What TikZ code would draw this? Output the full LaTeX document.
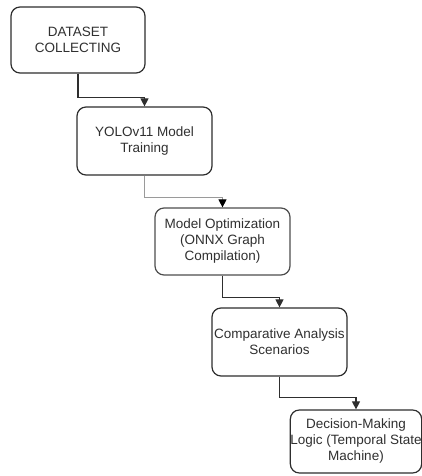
\documentclass[tikz,border=0pt]{standalone}
\usepackage{fontspec}
\setmainfont{Liberation Sans}
\usetikzlibrary{arrows.meta}
\definecolor{boxline}{HTML}{2E2E2E}
\definecolor{txt}{HTML}{303030}
\definecolor{lightline}{HTML}{9A9A9A}
\tikzset{
  stepbox/.style={draw=boxline, line width=1.2pt, rounded corners=9pt, fill=white,
    align=center, text=txt, inner sep=0pt,
    font=\fontsize{13.5}{16}\selectfont},
  conn/.style={draw=boxline, line width=1.2pt, -{Triangle[width=8pt,length=8pt]}},
  connlight/.style={draw=lightline, line width=1pt, arrows={-{Triangle[width=8pt,length=8pt,color=black]}}}
}
\begin{document}
\begin{tikzpicture}[x=1pt,y=1pt]
\useasboundingbox (0,0) rectangle (421,476);
\node[stepbox, minimum width=134pt, minimum height=66pt] (b1) at (78,436) {DATASET\\COLLECTING};
\node[stepbox, minimum width=135pt, minimum height=68pt] (b2) at (144.5,335) {YOLOv11 Model\\Training};
\node[stepbox, minimum width=135pt, minimum height=67pt, draw=boxline!85] (b3) at (222.5,234.5) {Model Optimization\\(ONNX Graph\\Compilation)};
\node[stepbox, minimum width=135pt, minimum height=68pt] (b4) at (279.5,134) {Comparative Analysis\\Scenarios};
\node[stepbox, minimum width=128pt, minimum height=63pt] (b5) at (356,34.5) {Decision-Making\\Logic (Temporal State\\Machine)};
\draw[conn] (b1.south) -- ++(0,-24) -| (b2.north);
\draw[connlight] (b2.south) -- ++(0,-22) -| (b3.north);
\draw[conn] (b3.south) -- ++(0,-22) -| (b4.north);
\draw[conn] (b4.south) -- ++(0,-21) -| (b5.north);
\end{tikzpicture}
\end{document}
